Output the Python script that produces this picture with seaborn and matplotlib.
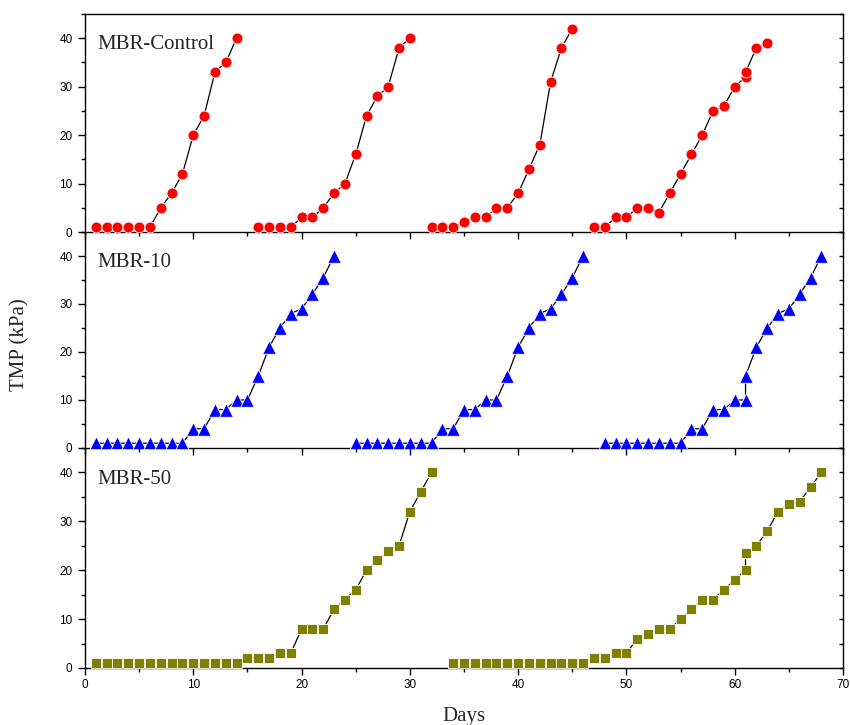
import numpy as np
import pandas as pd
import matplotlib
matplotlib.use("Agg")
import matplotlib.pyplot as plt
from matplotlib.ticker import MultipleLocator
import seaborn as sns

# ---------------- data ----------------
control_days = [1, 2, 3, 4, 5, 6, 7, 8, 9, 10, 11, 12, 13, 14,
                16, 17, 18, 19, 20, 21, 22, 23, 24, 25, 26, 27, 28, 29, 30,
                32, 33, 34, 35, 36, 37, 38, 39, 40, 41, 42, 43, 44, 45,
                47, 48, 49, 50, 51, 52, 53, 54, 55, 56, 57, 58, 59, 60, 61, 61, 62, 63]
control_tmp = [1, 1, 1, 1, 1, 1, 5, 8, 12, 20, 24, 33, 35, 40,
               1, 1, 1, 1, 3, 3, 5, 8, 10, 16, 24, 28, 30, 38, 40,
               1, 1, 1, 2, 3, 3, 5, 5, 8, 13, 18, 31, 38, 42,
               1, 1, 3, 3, 5, 5, 4, 8, 12, 16, 20, 25, 26, 30, 32, 33, 38, 39]

mbr10_days = [1, 2, 3, 4, 5, 6, 7, 8, 9, 10, 11, 12, 13, 14, 15, 16, 17, 18, 19, 20, 21, 22, 23,
              25, 26, 27, 28, 29, 30, 31, 32, 33, 34, 35, 36, 37, 38, 39, 40, 41, 42, 43, 44, 45, 46,
              48, 49, 50, 51, 52, 53, 54, 55, 56, 57, 58, 59, 60, 61, 61, 62, 63, 64, 65, 66, 67, 68]
mbr10_tmp = [1, 1, 1, 1, 1, 1, 1, 1, 1, 4, 4, 8, 8, 10, 10, 15, 21, 25, 28, 29, 32, 35.5, 40,
             1, 1, 1, 1, 1, 1, 1, 1, 4, 4, 8, 8, 10, 10, 15, 21, 25, 28, 29, 32, 35.5, 40,
             1, 1, 1, 1, 1, 1, 1, 1, 4, 4, 8, 8, 10, 10, 15, 21, 25, 28, 29, 32, 35.5, 40]

mbr50_days = [1, 2, 3, 4, 5, 6, 7, 8, 9, 10, 11, 12, 13, 14, 15, 16, 17, 18, 19, 20, 21, 22,
              23, 24, 25, 26, 27, 28, 29, 30, 31, 32,
              34, 35, 36, 37, 38, 39, 40, 41, 42, 43, 44, 45, 46, 47, 48, 49, 50, 51, 52, 53,
              54, 55, 56, 57, 58, 59, 60, 61, 61, 62, 63, 64, 65, 66, 67, 68]
mbr50_tmp = [1, 1, 1, 1, 1, 1, 1, 1, 1, 1, 1, 1, 1, 1, 2, 2, 2, 3, 3, 8, 8, 8,
             12, 14, 16, 20, 22, 24, 25, 32, 36, 40,
             1, 1, 1, 1, 1, 1, 1, 1, 1, 1, 1, 1, 1, 2, 2, 3, 3, 6, 7, 8,
             8, 10, 12, 14, 14, 16, 18, 20, 23.5, 25, 28, 32, 33.5, 34, 37, 40]

panel_names = ["MBR-Control", "MBR-10", "MBR-50"]
panel_colors = ["#FF0000", "#0000FF", "#808000"]
panel_markers = ["o", "^", "s"]
panel_msize = [62, 95, 48]
x_ticks = [0, 10, 20, 30, 40, 50, 60, 70]
y_ticks = [0, 10, 20, 30, 40]


def make_frame(days, tmp):
    df = pd.DataFrame({"Days": days, "TMP": tmp})
    # a new filtration cycle starts where TMP drops back after cleaning
    df["cycle"] = np.concatenate([[0], np.cumsum(np.diff(df["TMP"].to_numpy()) < -5)])
    return df


frames = [make_frame(control_days, control_tmp),
          make_frame(mbr10_days, mbr10_tmp),
          make_frame(mbr50_days, mbr50_tmp)]

# ---------------- figure ----------------
sns.set_style("ticks")
plt.rcParams["font.family"] = ["Liberation Sans", "DejaVu Sans"]
plt.rcParams["xtick.direction"] = "out"
plt.rcParams["ytick.direction"] = "out"

fig = plt.figure(figsize=(8.5, 7.25), dpi=100)
fig.patch.set_facecolor("white")
W, H = 850, 725
left, right = 85 / W, 843 / W
tops = [14, 232, 448]
bottoms = [232, 448, 668]

axes = []
for i in range(3):
    ax = fig.add_axes([left, 1 - bottoms[i] / H, right - left, (bottoms[i] - tops[i]) / H])
    ax.set_facecolor("none")
    axes.append(ax)
    df = frames[i]
    sns.lineplot(data=df, x="Days", y="TMP", units="cycle", estimator=None, sort=False,
                 color="black", linewidth=0.9, ax=ax, legend=False, zorder=2)
    sns.scatterplot(data=df, x="Days", y="TMP", color=panel_colors[i], marker=panel_markers[i],
                    s=panel_msize[i], edgecolor="white", linewidth=0.6, ax=ax,
                    legend=False, zorder=3)
    ax.set_xlim(0, 70)
    ax.set_ylim(0, 45)
    ax.set_xticks(x_ticks)
    ax.set_yticks(y_ticks)
    ax.xaxis.set_minor_locator(MultipleLocator(5))
    ax.yaxis.set_minor_locator(MultipleLocator(5))
    ax.tick_params(axis="both", which="major", length=5, width=1, labelsize=8.5,
                   colors="black", pad=3)
    ax.tick_params(axis="both", which="minor", length=3, width=1, colors="black")
    ax.tick_params(axis="y", which="both", right=True, labelright=False)
    ax.tick_params(axis="y", which="major", pad=4)
    for sp in ax.spines.values():
        sp.set_visible(True)
        sp.set_linewidth(1.0)
        sp.set_color("black")
    ax.spines["top"].set_visible(i == 0)
    ax.set_xlabel("")
    ax.set_ylabel("")
    if i < 2:
        ax.tick_params(axis="x", labelbottom=False)
    ax.text(0.016, 40.6, panel_names[i], transform=ax.get_yaxis_transform(),
            ha="left", va="top", fontsize=15, family=["Liberation Serif", "DejaVu Serif"])

# right-side inward ticks
for ax in axes:
    for t in ax.yaxis.get_major_ticks() + ax.yaxis.get_minor_ticks():
        t.tick2line.set_marker(matplotlib.lines.TICKLEFT)
        t.tick2line.set_markersize(3)

fig.text(20 / W, 1 - 345 / H, "TMP (kPa)", rotation=90, ha="center", va="center",
         fontsize=15, family=["Liberation Serif", "DejaVu Serif"])
fig.text(464 / W, 1 - 716 / H, "Days", ha="center", va="center",
         fontsize=15, family=["Liberation Serif", "DejaVu Serif"])

fig.savefig("out.png", dpi=100, facecolor="white")
